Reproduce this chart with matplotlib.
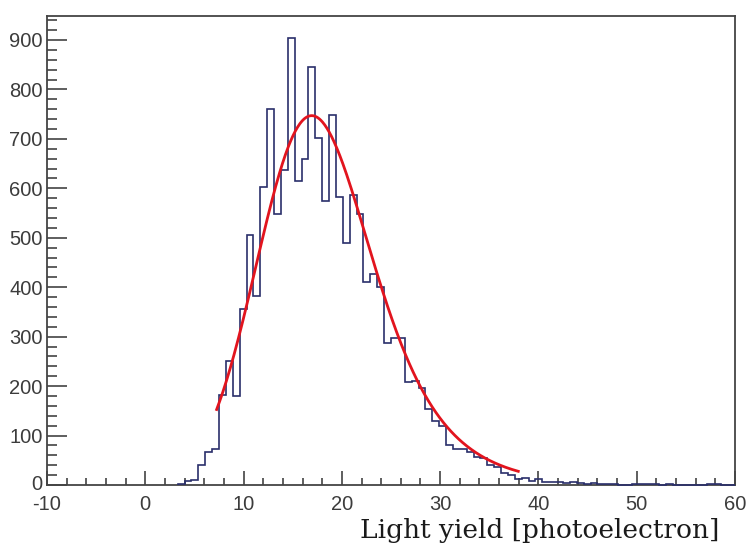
import math
import numpy as np
import matplotlib
matplotlib.use("Agg")
import matplotlib.pyplot as plt
import matplotlib.transforms as mtransforms
from matplotlib.ticker import MultipleLocator

# ---------------- data ----------------
bin_low = -10.0
bin_high = 60.0
n_bins = 100
counts = [0] * 19 + [
    2, 8, 11, 40, 66, 72, 182, 251, 179, 356,
    506, 383, 603, 760, 549, 637, 903, 615, 659, 846,
    702, 575, 748, 583, 489, 587, 549, 411, 427, 400,
    287, 298, 298, 208, 211, 196, 153, 130, 119, 81,
    72, 72, 67, 57, 55, 40, 37, 25, 20, 12,
    14, 9, 12, 7, 6, 7, 5, 6, 4, 3,
    4, 3, 2, 3, 1, 0, 2, 3, 2, 2,
    0, 2, 0, 1, 0, 0, 1, 2, 2, 0, 0,
]
counts = counts[:n_bins]

# fit (exponentially modified gaussian) parameters
fit_mu = 13.5
fit_sigma = 4.8
fit_tau = 5.0
fit_peak = 747.0
fit_xmin = 7.26
fit_xmax = 37.95

x_ticks_major = [-10, 0, 10, 20, 30, 40, 50, 60]
y_ticks_major = [0, 100, 200, 300, 400, 500, 600, 700, 800, 900]
y_max = 948.5
x_label = "Light yield [photoelectron]"

# ---------------- plot ----------------
plt.rcParams['axes.unicode_minus'] = False
plt.rcParams['font.family'] = ['Liberation Sans', 'DejaVu Sans']

W, H = 746, 547
fig = plt.figure(figsize=(W / 100, H / 100), dpi=100)
ax = fig.add_axes([47 / W, 1 - 485 / H, (735 - 47) / W, (485 - 16) / H])

edges = np.linspace(bin_low, bin_high, n_bins + 1)
vals = np.array(counts, dtype=float)
first = int(np.argmax(vals > 0))
ax.stairs(vals[first:], edges[first:], baseline=0, fill=False,
          color='#2a2f6b', linewidth=1.2, clip_on=False, zorder=3)


def exgauss(x, mu, sigma, tau):
    lam = 1.0 / tau
    arg = (mu + lam * sigma ** 2 - x) / (math.sqrt(2) * sigma)
    erfc = np.vectorize(math.erfc)(arg)
    return np.exp(lam / 2 * (2 * mu + lam * sigma ** 2 - 2 * x)) * erfc


xf = np.linspace(fit_xmin, fit_xmax, 400)
yf = exgauss(xf, fit_mu, fit_sigma, fit_tau)
grid = np.linspace(0, 40, 4001)
yf = yf / exgauss(grid, fit_mu, fit_sigma, fit_tau).max() * fit_peak
ax.plot(xf, yf, color='#e2141e', linewidth=2.0, zorder=4)

ax.set_xlim(bin_low, bin_high)
ax.set_ylim(0, y_max)
ax.set_xticks(x_ticks_major)
ax.set_yticks(y_ticks_major)
ax.xaxis.set_minor_locator(MultipleLocator(2))
ax.yaxis.set_minor_locator(MultipleLocator(20))

label_color = '#3c3c3c'
ax.tick_params(axis='y', which='major', direction='in', length=14.5, width=1.1,
               color='#333333', labelsize=14.5, labelcolor=label_color, pad=3)
ax.tick_params(axis='y', which='minor', direction='in', length=7.2, width=1.1,
               color='#333333')
ax.tick_params(axis='x', which='major', direction='in', length=10, width=1.1,
               color='#333333', labelsize=14.5, labelcolor=label_color, pad=7)
ax.tick_params(axis='x', which='minor', direction='in', length=5, width=1.1,
               color='#333333')

fig.canvas.draw()
ylabels = ax.get_yticklabels()
if ylabels:
    ylabels[0].set_transform(ylabels[0].get_transform() +
                             mtransforms.ScaledTranslation(0, 3 / 100, fig.dpi_scale_trans))

for s in ax.spines.values():
    s.set_color('#444444')
    s.set_linewidth(1.3)

fig.text(719 / W, 1 - 538 / H, x_label, ha='right', va='baseline',
         fontsize=19, family='DejaVu Serif', color='#1a1a1a')

fig.savefig('out.png', dpi=100, facecolor='white')
